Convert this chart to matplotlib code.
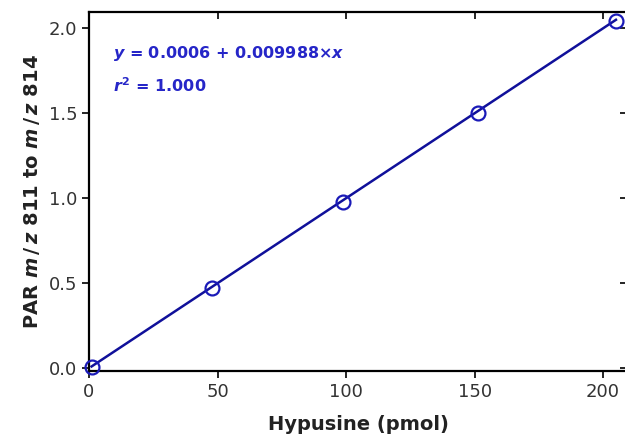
import numpy as np
import matplotlib
matplotlib.use("Agg")
import matplotlib.pyplot as plt

# Dane kalibracyjne
hypusine_pmol = [1.0, 47.7, 98.7, 151.2, 205.0]
par_ratio = [0.008, 0.469, 0.978, 1.502, 2.043]

# Współczynniki dopasowania
intercept = 0.0006
slope = 0.009988
r_squared = 1.000

xticks = [0, 50, 100, 150, 200]
yticks = [0.0, 0.5, 1.0, 1.5, 2.0]

plt.rcParams["font.family"] = "DejaVu Sans"
plt.rcParams["mathtext.fontset"] = "custom"
plt.rcParams["mathtext.it"] = "DejaVu Sans:bold:italic"
plt.rcParams["mathtext.rm"] = "DejaVu Sans:bold"
plt.rcParams["mathtext.bf"] = "DejaVu Sans:bold"

fig = plt.figure(figsize=(6.25, 4.38), dpi=100)
ax = fig.add_axes([0.1424, 0.153, 0.8608, 0.8196])

fit_x = np.array([hypusine_pmol[0], hypusine_pmol[-1]])
ax.plot(fit_x, intercept + slope * fit_x, color="#10109a", linewidth=1.8, zorder=2)
ax.plot(hypusine_pmol, par_ratio, linestyle="none", marker="o", markersize=10,
        markerfacecolor="none", markeredgecolor="#1a1ab8", markeredgewidth=1.6,
        zorder=3, clip_on=False)

ax.set_xlim(0, 209.3)
ax.set_ylim(-0.016, 2.094)
ax.set_xticks(xticks)
ax.set_yticks(yticks)
ax.set_yticklabels([f"{v:.1f}" for v in yticks])

ax.tick_params(axis="both", labelsize=13, labelcolor="#333333", length=5, width=1.2,
               direction="out")
ax.tick_params(axis="x", which="major", top=True)
ax.tick_params(axis="y", which="major", right=True)
for t in ax.xaxis.get_major_ticks():
    t.tick2line.set_marker(3)  # kreska do wewnątrz od góry
for t in ax.yaxis.get_major_ticks():
    t.tick2line.set_marker(0)  # kreska do wewnątrz od prawej
for spine in ax.spines.values():
    spine.set_linewidth(1.6)

ax.set_xlabel("Hypusine (pmol)", fontsize=14, fontweight="bold", color="#222222", labelpad=10)
ax.set_ylabel(r"PAR $m\,/\,z$ 811 to $m\,/\,z$ 814", fontsize=14, fontweight="bold",
              color="#222222", labelpad=5)

ax.text(0.045, 0.885, f"$y$ = {intercept:.4f} + {slope:.6f}×$x$", transform=ax.transAxes,
        fontsize=11.5, fontweight="bold", color="#2626c8", va="center")
ax.text(0.045, 0.795, f"$r^2$ = {r_squared:.3f}", transform=ax.transAxes,
        fontsize=11.5, fontweight="bold", color="#2626c8", va="center")

fig.savefig("out.png", dpi=100)
